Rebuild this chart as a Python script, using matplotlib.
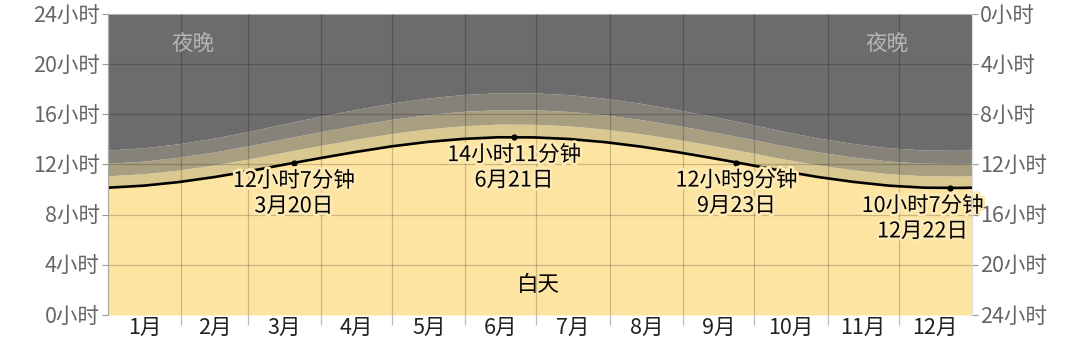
import matplotlib
matplotlib.use("Agg")

import matplotlib.pyplot as plt
import matplotlib.patheffects as pe

plt.rcParams['font.family'] = ['Noto Sans CJK SC', 'DejaVu Sans']

# === data (day of year, hours) ===
days = [0, 15, 30, 45, 60, 75, 90, 105, 120, 135, 150, 165, 180,
        195, 210, 225, 240, 255, 270, 285, 300, 315, 330, 345, 360, 365]
daylight = [10.15, 10.31, 10.60, 11.00, 11.48, 12.01, 12.52, 13.01, 13.45, 13.80, 14.04, 14.17, 14.16,
            14.03, 13.78, 13.43, 13.00, 12.52, 12.01, 11.48, 11.00, 10.61, 10.31, 10.15, 10.13, 10.15]
civil_end = [11.10, 11.26, 11.56, 11.97, 12.46, 13.01, 13.53, 14.03, 14.48, 14.84, 15.09, 15.22, 15.21,
             15.08, 14.82, 14.46, 14.02, 13.53, 13.01, 12.46, 11.97, 11.57, 11.26, 11.10, 11.08, 11.10]
nautical_end = [12.10, 12.27, 12.58, 13.00, 13.51, 14.08, 14.62, 15.14, 15.60, 15.98, 16.24, 16.37, 16.36,
                16.23, 15.96, 15.58, 15.13, 14.62, 14.08, 13.51, 13.00, 12.59, 12.27, 12.10, 12.08, 12.10]
astro_end = [13.15, 13.33, 13.66, 14.11, 14.66, 15.27, 15.85, 16.40, 16.90, 17.30, 17.58, 17.72, 17.71,
             17.57, 17.28, 16.88, 16.39, 15.85, 15.27, 14.66, 14.11, 13.67, 13.33, 13.15, 13.13, 13.15]

month_names = ["1月", "2月", "3月", "4月", "5月", "6月", "7月", "8月", "9月", "10月", "11月", "12月"]
month_days = [31, 28, 31, 30, 31, 30, 31, 31, 30, 31, 30, 31]

key_days = [78.5, 171.5, 265.5, 355.5]
key_hours = [12.12, 14.18, 12.15, 10.12]
key_labels = ["12小时7分钟\n3月20日", "14小时11分钟\n6月21日", "12小时9分钟\n9月23日", "10小时7分钟\n12月22日"]

hour_ticks = [0, 4, 8, 12, 16, 20, 24]

# === plot ===
fig = plt.figure(figsize=(10.8, 3.47), dpi=100)
ax = fig.add_axes([0.1, 0.0922, 0.8, 0.8675])

c_day = "#fde4a0"
c_civil = "#d9c88f"
c_naut = "#a89e80"
c_astro = "#86827a"
c_night = "#6c6c6c"
fs = 15.5

ax.fill_between(days, 0, daylight, color=c_day, lw=0)
ax.fill_between(days, daylight, civil_end, color=c_civil, lw=0)
ax.fill_between(days, civil_end, nautical_end, color=c_naut, lw=0)
ax.fill_between(days, nautical_end, astro_end, color=c_astro, lw=0)
ax.fill_between(days, astro_end, 24, color=c_night, lw=0)

ax.plot(days, daylight, color="black", lw=1.9, zorder=4)

ax.set_xlim(0, 365)
ax.set_ylim(0, 24)

# grid
bounds = [0]
for m in month_days:
    bounds.append(bounds[-1] + m)
for b in bounds[1:-1]:
    ax.axvline(b, color="black", alpha=0.2, lw=0.9, zorder=3)
for h in hour_ticks[1:-1]:
    ax.axhline(h, color="black", alpha=0.2, lw=0.9, zorder=3)

ax.set_xticks(bounds[1:-1])
ax.set_xticklabels([])
ax.tick_params(axis="x", which="major", length=7, color="#bbbbbb", width=0.9)
mids = [(bounds[i] + bounds[i + 1]) / 2 for i in range(12)]
ax.set_xticks(mids, minor=True)
ax.set_xticklabels(month_names, minor=True, fontsize=fs, color="#222222")
ax.tick_params(axis="x", which="minor", length=0, pad=1)

ax.set_yticks(hour_ticks)
ax.set_yticklabels([f"{h}小时" for h in hour_ticks], fontsize=fs, color="#666666")
ax.tick_params(axis="y", length=4, color="#999999", pad=2)

ax2 = ax.twinx()
ax2.set_ylim(24, 0)
ax2.set_yticks(hour_ticks)
ax2.set_yticklabels([f"{h}小时" for h in hour_ticks], fontsize=fs, color="#666666")
ax2.tick_params(axis="y", length=4, color="#999999", pad=2)

for a in (ax, ax2):
    for s in ("top", "bottom"):
        a.spines[s].set_visible(False)
    a.spines["left"].set_color("#aaaaaa")
    a.spines["right"].set_color("#dddddd")

# key points
ax.scatter(key_days, key_hours, s=12, color="black", zorder=5)
halo = [pe.withStroke(linewidth=4, foreground="#fde9b4")]
shifts = [0, 0, 0, -27]
for d, h, lab, sh in zip(key_days, key_hours, key_labels, shifts):
    ax.annotate(lab, (d, h), xytext=(sh * 0.72, -5), textcoords="offset points",
                ha="center", va="top", fontsize=fs, color="black",
                linespacing=1.2, zorder=6, path_effects=halo)

ax.text(36, 21.6, "夜晚", ha="center", va="center", fontsize=fs, color="#b4b4b4")
ax.text(329, 21.6, "夜晚", ha="center", va="center", fontsize=fs, color="#b4b4b4")
ax.text(182, 2.4, "白天", ha="center", va="center", fontsize=fs, color="black")

plt.savefig("out.png", dpi=100)
plt.close()
